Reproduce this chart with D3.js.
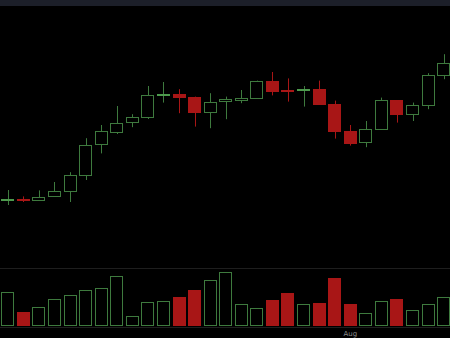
<!DOCTYPE html>
<html>
<head>
<meta charset="utf-8">
<style>
  html, body { margin: 0; padding: 0; background: #000; }
  svg { display: block; }
</style>
</head>
<body>
<svg id="chart"></svg>
<script src="https://cdn.jsdelivr.net/npm/d3@7"></script>
<script>
// trading days
const dates = ["2019-07-01","2019-07-02","2019-07-03","2019-07-05","2019-07-08","2019-07-09",
  "2019-07-10","2019-07-11","2019-07-12","2019-07-15","2019-07-16","2019-07-17","2019-07-18",
  "2019-07-19","2019-07-22","2019-07-23","2019-07-24","2019-07-25","2019-07-26","2019-07-29",
  "2019-07-30","2019-07-31","2019-08-01","2019-08-02","2019-08-05","2019-08-06","2019-08-07",
  "2019-08-08","2019-08-09"]

const open  = [105.4,105.6,105.0,106.7,109.3,117.4,132.8,139.3,143.7,146.7,157.6,158.2,156.7,149.2,154.2,
  155.4,156.2,164.7,160.1,160.2,160.5,153.2,139.7,133.9,140.4,155.0,147.9,152.4,167.3]
const high  = [110.0,106.8,109.8,114.0,118.9,135.9,142.5,152.0,147.9,162.0,164.0,160.4,156.7,158.4,156.7,
  160.0,164.7,169.0,165.8,162.0,164.7,154.7,142.5,144.5,156.2,155.0,153.7,168.4,177.9]
const low   = [102.5,104.0,104.8,106.7,104.0,115.0,128.3,138.0,141.4,145.5,153.7,148.4,141.7,140.9,145.4,
  153.4,156.2,157.3,154.2,151.7,153.2,135.7,132.2,131.4,140.4,143.7,144.5,150.4,165.4]
const close = [105.6,105.4,106.7,109.3,117.4,132.4,139.4,143.7,146.4,157.5,157.8,156.7,149.2,154.2,155.4,
  156.2,164.7,159.7,159.9,160.4,153.2,139.7,133.9,140.4,155.0,147.9,152.4,167.5,173.4]
const volume = [3300,1300,1800,2600,3000,3500,3700,4900,900,2300,2400,2800,3500,4500,5300,
  2100,1700,2500,3200,2100,2200,4700,2100,1200,2400,2600,1500,2100,2800]

const monthTicks = ["2019-08-01"]
const monthLabels = ["Aug"]

const W = 450, H = 338
const up = "#3e7a3e", down = "#a81616"

const svg = d3.select("#chart").attr("width", W).attr("height", H)

svg.append("rect").attr("width", W).attr("height", H).attr("fill", "#000")
// top strip
svg.append("rect").attr("width", W).attr("height", 6).attr("fill", "#1c1f29")

const x = d3.scaleBand().domain(dates).range([0, 451.5]).paddingInner(0.16).paddingOuter(0.08)
const y = d3.scaleLinear().domain([71, 202]).range([268, 6])
const yv = d3.scaleLinear().domain([0, 5700]).range([325, 268])

const data = dates.map(function(d, i) {
  return {date: d, o: open[i], h: high[i], l: low[i], c: close[i], v: volume[i]}
})

function col(d) { return d.c >= d.o ? up : down }
function cx(d) { return Math.round(x(d.date) + x.bandwidth() / 2) + 0.5 }

// pane separators
svg.append("line").attr("x1", 0).attr("x2", W).attr("y1", 268.5).attr("y2", 268.5).attr("stroke", "#1e1e1e")
svg.append("line").attr("x1", 0).attr("x2", W).attr("y1", 327.5).attr("y2", 327.5).attr("stroke", "#1e1e1e")

// volume
svg.selectAll(".vol").data(data).enter().append("rect")
  .attr("class", "vol")
  .attr("x", function(d) { return Math.round(x(d.date)) + 0.5 })
  .attr("y", function(d) { return Math.round(yv(d.v)) + 0.5 })
  .attr("width", Math.round(x.bandwidth()) - 1)
  .attr("height", function(d) { return Math.round(yv(0)) - Math.round(yv(d.v)) })
  .attr("fill", function(d) { return d.c >= d.o ? "#000" : down })
  .attr("stroke", col)

// wicks
svg.selectAll(".wick").data(data).enter().append("line")
  .attr("class", "wick")
  .attr("x1", cx).attr("x2", cx)
  .attr("y1", function(d) { return y(d.h) })
  .attr("y2", function(d) { return y(d.l) })
  .attr("stroke", col)

// bodies
svg.selectAll(".body").data(data).enter().append("rect")
  .attr("class", "body")
  .attr("x", function(d) { return Math.round(x(d.date)) + 0.5 })
  .attr("y", function(d) { return Math.round(y(Math.max(d.o, d.c))) + 0.5 })
  .attr("width", Math.round(x.bandwidth()) - 1)
  .attr("height", function(d) { return Math.max(1, Math.round(Math.abs(y(d.o) - y(d.c)))) })
  .attr("fill", function(d) { return d.c >= d.o ? "#000" : down })
  .attr("stroke", function(d) { return Math.abs(y(d.o) - y(d.c)) < 1.5 && d.c >= d.o ? "#4d9a4d" : col(d) })

// time axis
const ax = svg.append("g")
  .attr("transform", "translate(0,328)")
  .call(d3.axisBottom(x).tickValues(monthTicks).tickSize(0).tickPadding(3)
    .tickFormat(function(d) { return monthLabels[monthTicks.indexOf(d)] }))
ax.select(".domain").remove()
ax.selectAll("text").attr("fill", "#8a8a8a").style("font-family", "DejaVu Sans, sans-serif").style("font-size", "7px")
</script>
</body>
</html>
